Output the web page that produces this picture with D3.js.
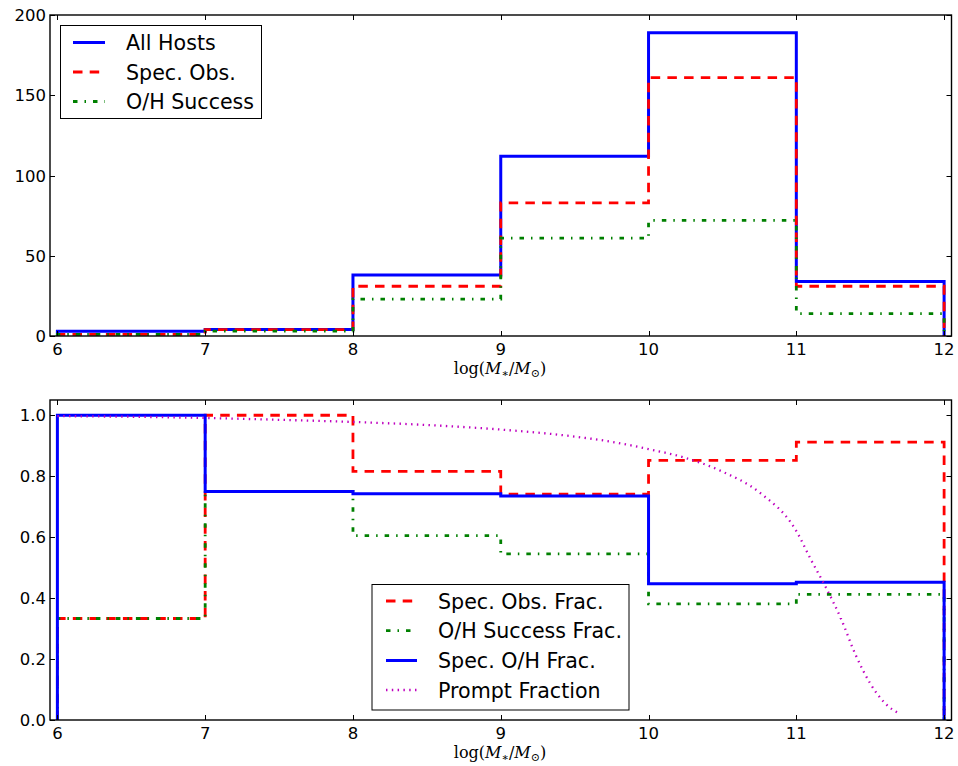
<!DOCTYPE html>
<html>
<head>
<meta charset="utf-8">
<script src="https://cdn.jsdelivr.net/npm/d3@7"></script>
<style>
  html, body { margin: 0; padding: 0; background: #fff; }
  svg { display: block; }
  text { font-family: "DejaVu Sans", sans-serif; fill: #000; }
</style>
</head>
<body>
<svg id="chart" width="958" height="766"></svg>
<script>
// ---------------- data ----------------
const binEdges = [6, 7, 8, 9, 10, 11, 12];
const xTicks = [6, 7, 8, 9, 10, 11, 12];

// top panel: counts per mass bin
const allHosts   = [3, 4, 38, 112, 189, 34];
const specObs    = [1, 4, 31, 83, 161, 31];
const ohSuccess  = [1, 3, 23, 61, 72, 14];
const topYTicks  = [0, 50, 100, 150, 200];

// bottom panel: fractions per mass bin
const specObsFrac   = [0.333, 1.0, 0.816, 0.741, 0.852, 0.912];
const ohSuccessFrac = [0.333, 0.75, 0.605, 0.545, 0.381, 0.412];
const specOHFrac    = [1.0, 0.75, 0.742, 0.735, 0.447, 0.452];
const botYTicks     = [0, 0.2, 0.4, 0.6, 0.8, 1.0];

// prompt fraction curve
const promptX = [6.0, 6.5, 7.0, 7.5, 8.0, 8.5, 9.0, 9.5, 9.75, 10.0, 10.25, 10.5, 10.75, 11.0, 11.1, 11.2, 11.3, 11.4, 11.5, 11.6, 11.7];
const promptY = [0.997, 0.995, 0.991, 0.985, 0.978, 0.968, 0.953, 0.930, 0.913, 0.889, 0.860, 0.815, 0.747, 0.620, 0.525, 0.435, 0.335, 0.215, 0.120, 0.055, 0.020];

const topLegend = ["All Hosts", "Spec. Obs.", "O/H Success"];
const botLegend = ["Spec. Obs. Frac.", "O/H Success Frac.", "Spec. O/H Frac.", "Prompt Fraction"];

// ---------------- styles ----------------
const S = {
  blue:    { color: "#0000ff", width: 3,   dash: null },
  red:     { color: "#ff0000", width: 2.8, dash: "9.5,7.2" },
  green:   { color: "#008000", width: 2.8, dash: "4.5,7,1.5,7" },
  magenta: { color: "#bf00bf", width: 2.3, dash: "1.45,4.35" }
};

const svg = d3.select("#chart");
const x = d3.scaleLinear().domain([5.95, 12.05]).range([50, 951.5]);

function stepPoints(vals) {
  const pts = [[binEdges[0], 0]];
  vals.forEach((v, i) => { pts.push([binEdges[i], v]); pts.push([binEdges[i + 1], v]); });
  pts.push([binEdges[binEdges.length - 1], 0]);
  return pts;
}

function styleLine(sel, st) {
  sel.attr("fill", "none").attr("stroke", st.color).attr("stroke-width", st.width)
     .attr("stroke-linecap", "butt").attr("stroke-linejoin", "miter");
  if (st.dash) sel.attr("stroke-dasharray", st.dash);
  return sel;
}

function panel(y, yTicks, fmt, top, bottom) {
  const g = svg.append("g");
  const left = x.range()[0], right = x.range()[1];
  const clipId = "clip" + Math.round(top);
  svg.append("clipPath").attr("id", clipId).append("rect")
    .attr("x", left).attr("y", top).attr("width", right - left).attr("height", bottom - top);
  const plot = g.append("g").attr("clip-path", `url(#${clipId})`);

  // ticks (inward, all four sides)
  const tk = g.append("g").attr("stroke", "#000").attr("stroke-width", 1);
  xTicks.forEach(t => {
    const px = Math.round(x(t)) + 0.5;
    tk.append("line").attr("x1", px).attr("x2", px).attr("y1", bottom).attr("y2", bottom - 5);
    tk.append("line").attr("x1", px).attr("x2", px).attr("y1", top).attr("y2", top + 5);
  });
  yTicks.forEach(t => {
    const py = Math.round(y(t)) + 0.5;
    tk.append("line").attr("x1", left).attr("x2", left + 5).attr("y1", py).attr("y2", py);
    tk.append("line").attr("x1", right).attr("x2", right - 5).attr("y1", py).attr("y2", py);
  });
  // tick labels
  xTicks.forEach(t => {
    g.append("text").attr("x", x(t)).attr("y", bottom + 19).attr("text-anchor", "middle")
      .attr("font-size", "16.5px").text(t);
  });
  yTicks.forEach(t => {
    g.append("text").attr("x", left - 4).attr("y", y(t) + 6).attr("text-anchor", "end")
      .attr("font-size", "16.5px").text(fmt(t));
  });
  // x label
  const lab = g.append("text").attr("x", 500).attr("y", bottom + 38).attr("text-anchor", "middle")
    .style("font-family", "'DejaVu Serif', serif").attr("font-size", "16px");
  lab.append("tspan").text("log(");
  lab.append("tspan").attr("font-style", "italic").text("M");
  lab.append("tspan").attr("font-size", "11px").attr("dy", 3).text("∗");
  lab.append("tspan").attr("dy", -3).text("/");
  lab.append("tspan").attr("font-style", "italic").text("M");
  lab.append("tspan").attr("font-size", "11px").attr("dy", 3).text("⊙");
  lab.append("tspan").attr("dy", -3).text(")");

  return { g, plot, left, right, top, bottom };
}

// ---------------- top panel ----------------
const yTop = d3.scaleLinear().domain([0, 200]).range([336, 15]);
const P1 = panel(yTop, topYTicks, d => d3.format("d")(d), 15, 336);
const line1 = d3.line().x(d => x(d[0])).y(d => yTop(d[1]));
[[allHosts, S.blue], [specObs, S.red], [ohSuccess, S.green]].forEach(([vals, st]) => {
  styleLine(P1.plot.append("path").attr("d", line1(stepPoints(vals))), st);
});
// frame
P1.g.append("rect").attr("x", P1.left).attr("y", P1.top).attr("width", P1.right - P1.left)
  .attr("height", P1.bottom - P1.top).attr("fill", "none").attr("stroke", "#000").attr("stroke-width", 1.4);

// top legend
(function () {
  const lg = P1.g.append("g");
  lg.append("rect").attr("x", 60.5).attr("y", 25.5).attr("width", 201).attr("height", 93)
    .attr("fill", "#fff").attr("stroke", "#000").attr("stroke-width", 1);
  const sts = [S.blue, S.red, S.green];
  const ys = [42.5, 72, 101.5];
  topLegend.forEach((name, i) => {
    styleLine(lg.append("line").attr("x1", 73).attr("x2", 105).attr("y1", ys[i]).attr("y2", ys[i]), sts[i]);
    lg.append("text").attr("x", 126).attr("y", ys[i] + 7.5).attr("font-size", "20.6px").text(name);
  });
})();

// ---------------- bottom panel ----------------
const yBot = d3.scaleLinear().domain([0, 1.05]).range([720, 400]);
const P2 = panel(yBot, botYTicks, d => d3.format(".1f")(d), 400, 720);
const line2 = d3.line().x(d => x(d[0])).y(d => yBot(d[1]));
[[specObsFrac, S.red], [ohSuccessFrac, S.green], [specOHFrac, S.blue]].forEach(([vals, st]) => {
  styleLine(P2.plot.append("path").attr("d", line2(stepPoints(vals))), st);
});
const promptLine = d3.line().x(d => x(d[0])).y(d => yBot(d[1])).curve(d3.curveMonotoneX);
styleLine(P2.plot.append("path").attr("d", promptLine(promptX.map((v, i) => [v, promptY[i]]))), S.magenta);
P2.g.append("rect").attr("x", P2.left).attr("y", P2.top).attr("width", P2.right - P2.left)
  .attr("height", P2.bottom - P2.top).attr("fill", "none").attr("stroke", "#000").attr("stroke-width", 1.4);

// bottom legend
(function () {
  const lg = P2.g.append("g");
  lg.append("rect").attr("x", 372).attr("y", 584.5).attr("width", 257).attr("height", 125.5)
    .attr("fill", "#fff").attr("stroke", "#000").attr("stroke-width", 1);
  const sts = [S.red, S.green, S.blue, S.magenta];
  const ys = [601, 630.7, 660.5, 690];
  botLegend.forEach((name, i) => {
    styleLine(lg.append("line").attr("x1", 386).attr("x2", 417).attr("y1", ys[i]).attr("y2", ys[i]), sts[i]);
    lg.append("text").attr("x", 438).attr("y", ys[i] + 7.5).attr("font-size", "20.6px").text(name);
  });
})();
</script>
</body>
</html>
